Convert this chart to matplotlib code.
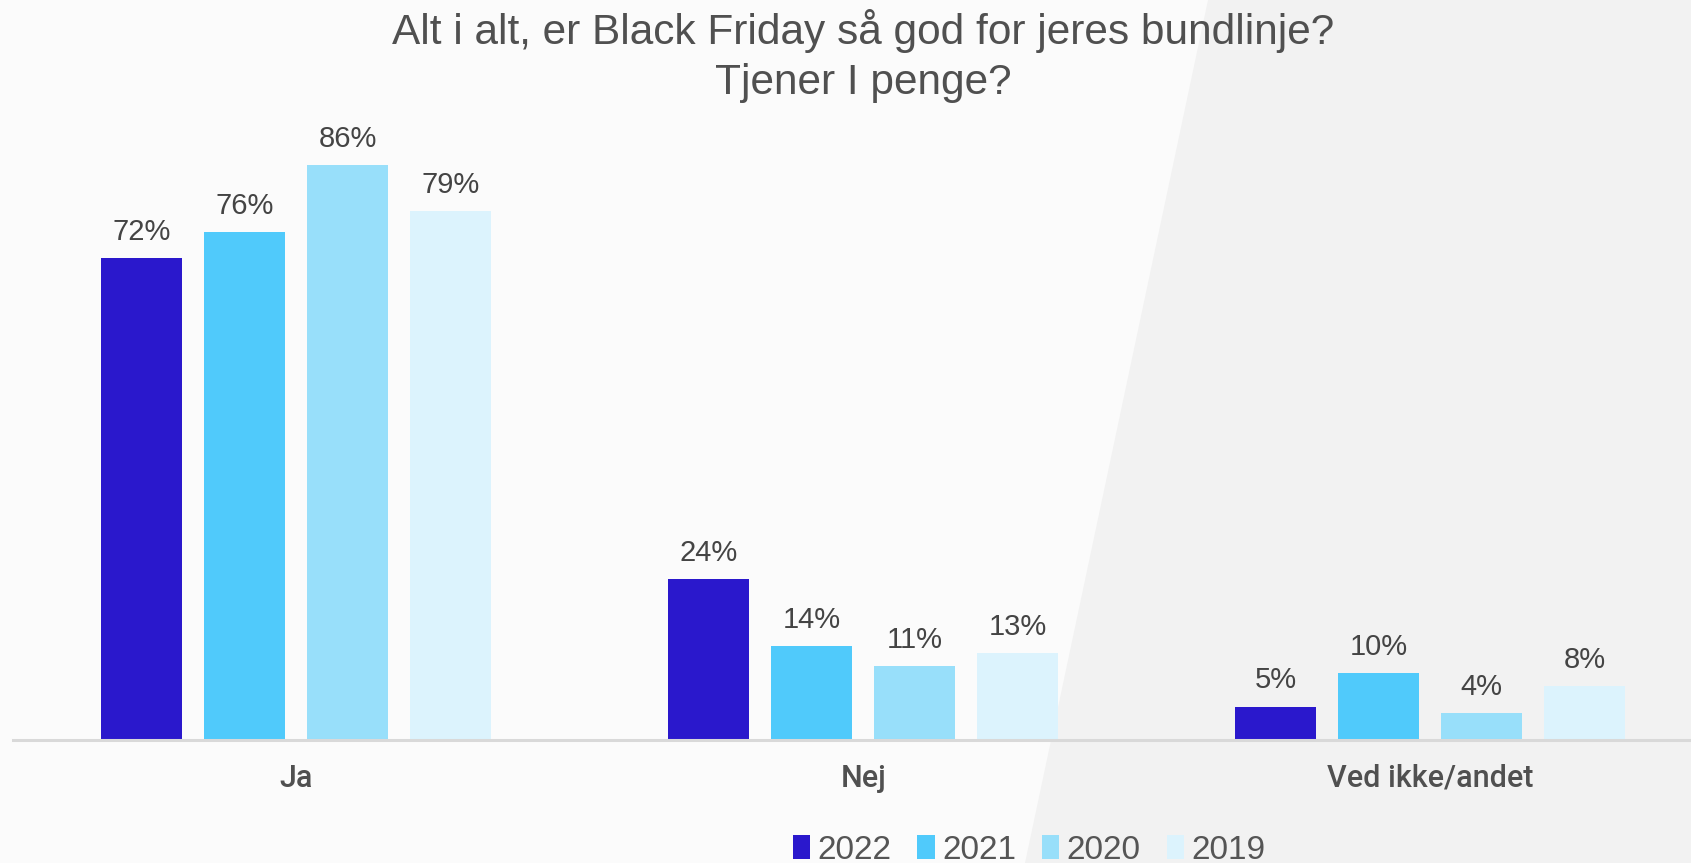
import matplotlib
matplotlib.use("Agg")
import matplotlib.pyplot as plt
import numpy as np
from matplotlib.patches import Polygon

# Survey answers per year (% of respondents)
categories = ["Ja", "Nej", "Ved ikke/andet"]
years = ["2022", "2021", "2020", "2019"]
values = {
    "2022": [72, 24, 5],
    "2021": [76, 14, 10],
    "2020": [86, 11, 4],
    "2019": [79, 13, 8],
}
colors = ["#2a18cc", "#50cafb", "#98dffa", "#dcf3fd"]

title = "Alt i alt, er Black Friday så god for jeres bundlinje?\nTjener I penge?"

W, H = 1691, 863
fig = plt.figure(figsize=(W / 100, H / 100), dpi=100)
fig.patch.set_facecolor("#fbfbfb")

# background layer: grey panel on the right with a slanted left edge
bg = fig.add_axes([0, 0, 1, 1], zorder=0)
bg.set_xlim(0, W)
bg.set_ylim(H, 0)
bg.axis("off")
bg.add_patch(Polygon([(1208, 0), (W, 0), (W, H), (1025, H)], closed=True,
                     facecolor="#f2f2f2", edgecolor="none"))

ax = fig.add_axes([13 / W, 1 - 740 / H, 1 - 13 / W, 640 / H], zorder=1)
ax.patch.set_alpha(0)

x = np.arange(len(categories))
width = 0.143
pitch = 0.1817
for i, (yr, c) in enumerate(zip(years, colors)):
    xs = x + (i - 1.5) * pitch
    bars = ax.bar(xs, values[yr], width=width, color=c, label=yr, zorder=2)
    for b, v in zip(bars, values[yr]):
        ax.annotate(f"{v}%", (b.get_x() + b.get_width() / 2, v),
                    xytext=(0, 13), textcoords="offset points",
                    ha="center", va="baseline", fontsize=21,
                    color="#444444", family="Liberation Sans")

ax.set_xlim(-0.5, 2.46)
ax.set_ylim(0, 640 / 6.69)
for s in ["top", "right", "left"]:
    ax.spines[s].set_visible(False)
ax.spines["bottom"].set_color("#d9d9d9")
ax.spines["bottom"].set_linewidth(2.2)
ax.set_yticks([])
ax.set_xticks(x)
ax.set_xticklabels(categories, fontsize=22, color="#505050",
                   family="Roboto", fontweight="medium")
ax.tick_params(axis="x", length=0, pad=17)

fig.text(863 / W, 1 - 56 / H, title, ha="center", va="center",
         fontsize=30.5, color="#505050", family="Liberation Sans",
         linespacing=1.3)

leg = fig.legend(loc="center", bbox_to_anchor=(1029 / W, 1 - 850 / H),
                 ncol=4, frameon=False,
                 prop={"family": "Liberation Sans", "size": 24},
                 handlelength=0.52, handleheight=0.7, handletextpad=0.22,
                 columnspacing=0.78)
for t in leg.get_texts():
    t.set_color("#555555")

fig.savefig("out.png", dpi=100, facecolor=fig.get_facecolor())
